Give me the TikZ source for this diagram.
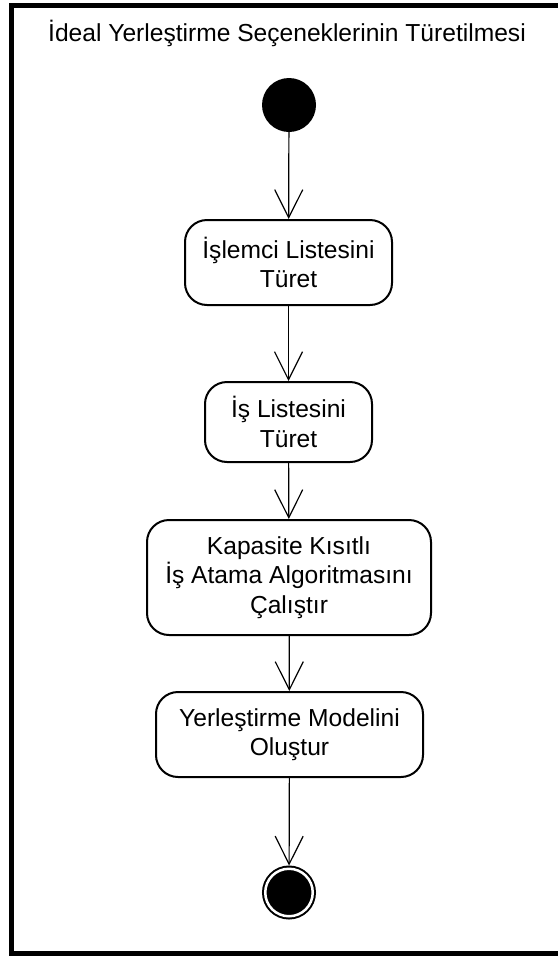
\documentclass[tikz,border=0pt]{standalone}
\usepackage{fontspec}
\setmainfont{Liberation Sans}
\usetikzlibrary{arrows.meta}

\begin{document}
\begin{tikzpicture}[x=1pt, y=-1pt, every node/.style={font=\fontsize{24.6}{29.5}\selectfont}, >={Straight Barb[length=28pt, width=28pt]},
	activity/.style={draw, line width=2pt, rounded corners=22pt, align=center, inner sep=0pt},
	initial/.style={circle, fill=black, minimum size=54pt, inner sep=0pt},
	final/.style={circle, draw, fill=black, line width=2pt, double=white, double distance=2.5pt, minimum size=47.5pt, inner sep=0pt, outer sep=3.25pt},
	flow/.style={->, line width=1.2pt}]
	\useasboundingbox (0,0) rectangle (557,956);
	\draw[line width=5pt] (11.5,5) rectangle (565,953.5);
	\node (title) at (287,33) {İdeal Yerleştirme Seçeneklerinin Türetilmesi};
	\node[initial] (start) at (289,105) {};
	\node[activity, minimum width=207pt, minimum height=85pt] (islemci) at (288.5,262.5) {İşlemci Listesini\\Türet};
	\node[activity, minimum width=167pt, minimum height=80pt] (isliste) at (288.5,422) {İş Listesini\\Türet};
	\node[activity, minimum width=284pt, minimum height=115pt] (atama) at (289,577.5) {Kapasite Kısıtlı\\İş Atama Algoritmasını\\Çalıştır};
	\node[activity, minimum width=267pt, minimum height=85pt] (model) at (289.5,734.5) {Yerleştirme Modelini\\Oluştur};
	\node[final] (stop) at (289,892.5) {};
	\draw[flow] (start) -- (islemci);
	\draw[flow] (islemci) -- (isliste);
	\draw[flow] (isliste) -- (atama);
	\draw[flow] (atama) -- (model);
	\draw[flow] (model) -- (stop);
\end{tikzpicture}
\end{document}
